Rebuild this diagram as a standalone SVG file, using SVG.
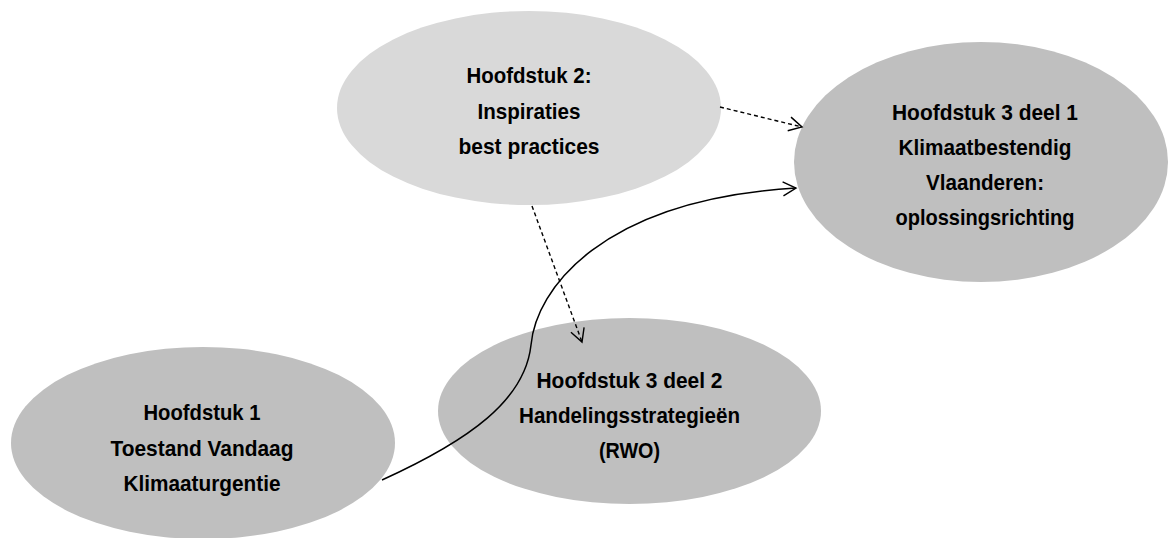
<svg xmlns="http://www.w3.org/2000/svg" width="1168" height="538" viewBox="0 0 1168 538">
<style>
.light{fill:#d9d9d9;}
.dark{fill:#bfbfbf;}
.lbl{font-family:"Liberation Sans",Arial,sans-serif;font-weight:bold;font-size:22.5px;fill:#000;text-anchor:middle;}
.dash{fill:none;stroke:#000;stroke-width:1.4;stroke-dasharray:4 3;}
.solid{fill:none;stroke:#000;stroke-width:1.5;}
</style>
<defs>
<marker id="arrow" viewBox="-15 -9 17 18" refX="0" refY="0" markerWidth="17" markerHeight="18" markerUnits="userSpaceOnUse" orient="auto">
<path d="M-13,-7 L0,0 L-13,7" fill="none" stroke="#000" stroke-width="1.4" stroke-dasharray="none"/>
</marker>
</defs>
<rect width="1168" height="538" fill="#fff"/>
<g id="node-h2">
<ellipse class="light" cx="529" cy="108" rx="192" ry="97"/>
<text class="lbl" x="529" y="83" textLength="125" lengthAdjust="spacingAndGlyphs">Hoofdstuk 2:</text>
<text class="lbl" x="529" y="119" textLength="103" lengthAdjust="spacingAndGlyphs">Inspiraties</text>
<text class="lbl" x="529" y="154" textLength="141" lengthAdjust="spacingAndGlyphs">best practices</text>
</g>
<g id="node-h31">
<ellipse class="dark" cx="981" cy="162" rx="187" ry="120"/>
<text class="lbl" x="985" y="120" textLength="186" lengthAdjust="spacingAndGlyphs">Hoofdstuk 3 deel 1</text>
<text class="lbl" x="985" y="155" textLength="173" lengthAdjust="spacingAndGlyphs">Klimaatbestendig</text>
<text class="lbl" x="985" y="190" textLength="118" lengthAdjust="spacingAndGlyphs">Vlaanderen:</text>
<text class="lbl" x="985" y="225" textLength="179" lengthAdjust="spacingAndGlyphs">oplossingsrichting</text>
</g>
<g id="node-h32">
<ellipse class="dark" cx="629.5" cy="411" rx="191.5" ry="93"/>
<text class="lbl" x="629.5" y="388" textLength="186" lengthAdjust="spacingAndGlyphs">Hoofdstuk 3 deel 2</text>
<text class="lbl" x="629.5" y="423" textLength="221" lengthAdjust="spacingAndGlyphs">Handelingsstrategieën</text>
<text class="lbl" x="629.5" y="458" textLength="61" lengthAdjust="spacingAndGlyphs">(RWO)</text>
</g>
<g id="node-h1">
<ellipse class="dark" cx="203" cy="443" rx="192" ry="96"/>
<text class="lbl" x="202" y="420" textLength="117" lengthAdjust="spacingAndGlyphs">Hoofdstuk 1</text>
<text class="lbl" x="202" y="456" textLength="183" lengthAdjust="spacingAndGlyphs">Toestand Vandaag</text>
<text class="lbl" x="202" y="491" textLength="157" lengthAdjust="spacingAndGlyphs">Klimaaturgentie</text>
</g>
<g id="connectors">
<path class="dash" d="M720,107 L802,127" marker-end="url(#arrow)"/>
<path class="dash" d="M532,206 L582,342" marker-end="url(#arrow)"/>
<path class="solid" d="M382,480 C470,440 525,400 531,345 C536,290 600,200 796,188" marker-end="url(#arrow)"/>
</g>
</svg>
